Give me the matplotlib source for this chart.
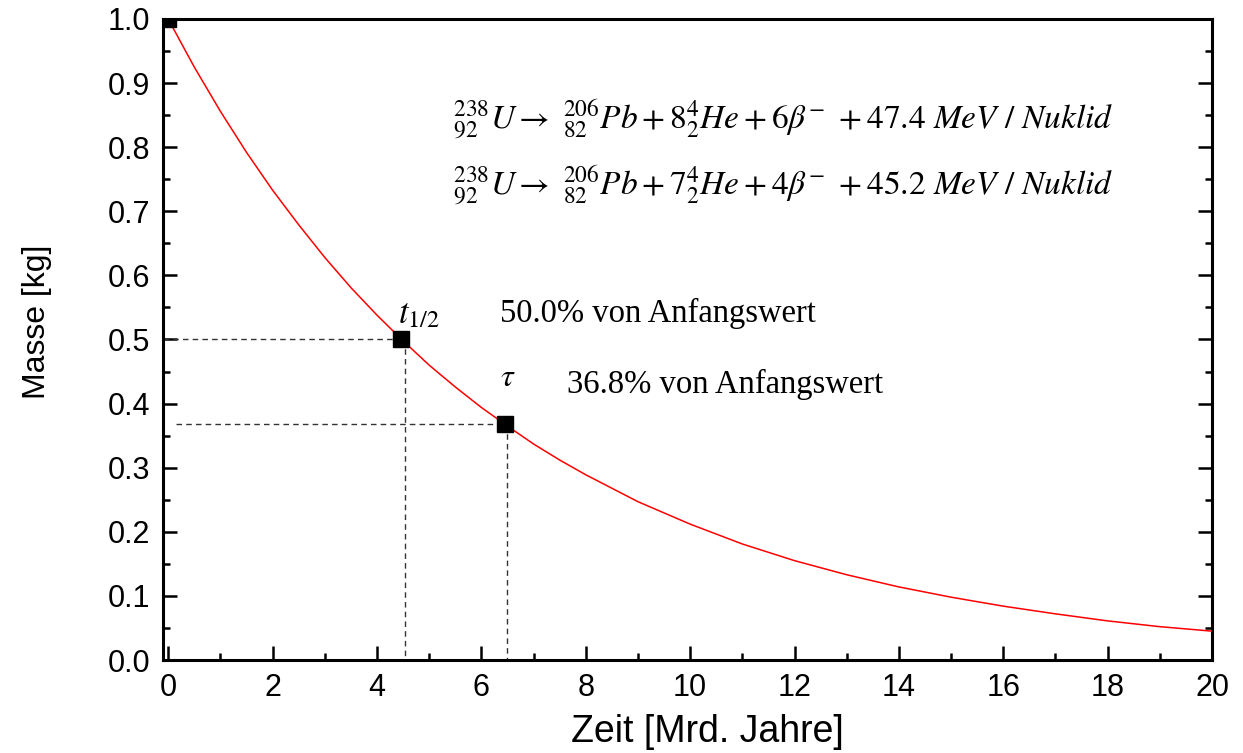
import matplotlib
matplotlib.use("Agg")
import matplotlib.pyplot as plt
from matplotlib.ticker import MultipleLocator

# (mass in kg vs. time in Gyr)
zeit = [0, 0.5, 1, 1.5, 2, 2.5, 3, 3.5, 4, 4.5, 5, 5.5, 6, 6.5, 7, 7.5, 8,
        9, 10, 11, 12, 13, 14, 15, 16, 17, 18, 19, 20]
masse = [1.000, 0.925, 0.856, 0.792, 0.733, 0.679, 0.628, 0.581, 0.538, 0.498,
         0.460, 0.426, 0.394, 0.365, 0.337, 0.312, 0.289,
         0.247, 0.212, 0.181, 0.155, 0.133, 0.114, 0.098, 0.084, 0.072, 0.061, 0.052, 0.045]

# marked points: start, half-life, mean lifetime
punkt_x = [0.0, 4.47, 6.45]
punkt_y = [1.0, 0.5, 0.368]

# dashed guide lines
hilfs_x = [4.53, 6.5]
hilfs_y = [0.5, 0.368]
hilfs_start = [-0.1, 0.15]

plt.rcParams['font.family'] = ['Liberation Sans', 'DejaVu Sans']
plt.rcParams['mathtext.fontset'] = 'stix'

fig = plt.figure(figsize=(12.43, 7.53), dpi=100)
ax = fig.add_axes([0.1311, 0.1235, 0.844, 0.8513])

ax.plot(zeit, masse, color='red', lw=1.1, zorder=3)

for x0, xv, yv in zip(hilfs_start, hilfs_x, hilfs_y):
    ax.plot([x0, xv], [yv, yv], ls=(0, (4, 3)), color='#333333', lw=1.0)
    ax.plot([xv, xv], [yv, 0], ls=(0, (4, 3)), color='#333333', lw=1.0)

ax.plot(punkt_x, punkt_y, 's', color='black', ms=11, zorder=4)

ax.set_xlim(-0.1, 20)
ax.set_ylim(0, 1.0)
ax.xaxis.set_major_locator(MultipleLocator(2))
ax.xaxis.set_minor_locator(MultipleLocator(1))
ax.yaxis.set_major_locator(MultipleLocator(0.1))
ax.yaxis.set_minor_locator(MultipleLocator(0.05))
ax.yaxis.set_major_formatter(matplotlib.ticker.FormatStrFormatter('%.1f'))

for s in ax.spines.values():
    s.set_linewidth(2.2)
ax.tick_params(which='both', direction='in', top=False, right=True,
               width=1.8, labelsize=22)
ax.tick_params(which='major', length=10, pad=9)
ax.tick_params(which='minor', length=5)

ax.set_xlabel('Zeit [Mrd. Jahre]', fontsize=27)
ax.set_ylabel('Masse [kg]', fontsize=23)
ax.xaxis.set_label_coords(0.519, -0.084)
ax.yaxis.set_label_coords(-0.106, 0.527)

gl1 = r'${}^{238}_{92}U \rightarrow\ {}^{206}_{82}Pb + 8{}^{4}_{2}He + 6\beta^{-}\ + 47.4\ MeV\ /\ Nuklid$'
gl2 = r'${}^{238}_{92}U \rightarrow\ {}^{206}_{82}Pb + 7{}^{4}_{2}He + 4\beta^{-}\ + 45.2\ MeV\ /\ Nuklid$'
ax.text(5.45, 0.842, gl1, fontsize=24, va='center', ha='left')
ax.text(5.45, 0.739, gl2, fontsize=24, va='center', ha='left')

ax.text(4.4, 0.54, r'$t_{1/2}$', fontsize=25, va='center', ha='left')
ax.text(6.35, 0.44, r'$\tau$', fontsize=23, va='center', ha='left')
ax.text(6.35, 0.54, '50.0% von Anfangswert', fontsize=23.5, va='center',
        ha='left', family=['Liberation Serif', 'DejaVu Serif'])
ax.text(7.65, 0.43, '36.8% von Anfangswert', fontsize=23.5, va='center',
        ha='left', family=['Liberation Serif', 'DejaVu Serif'])

fig.savefig('out.png', dpi=100)
